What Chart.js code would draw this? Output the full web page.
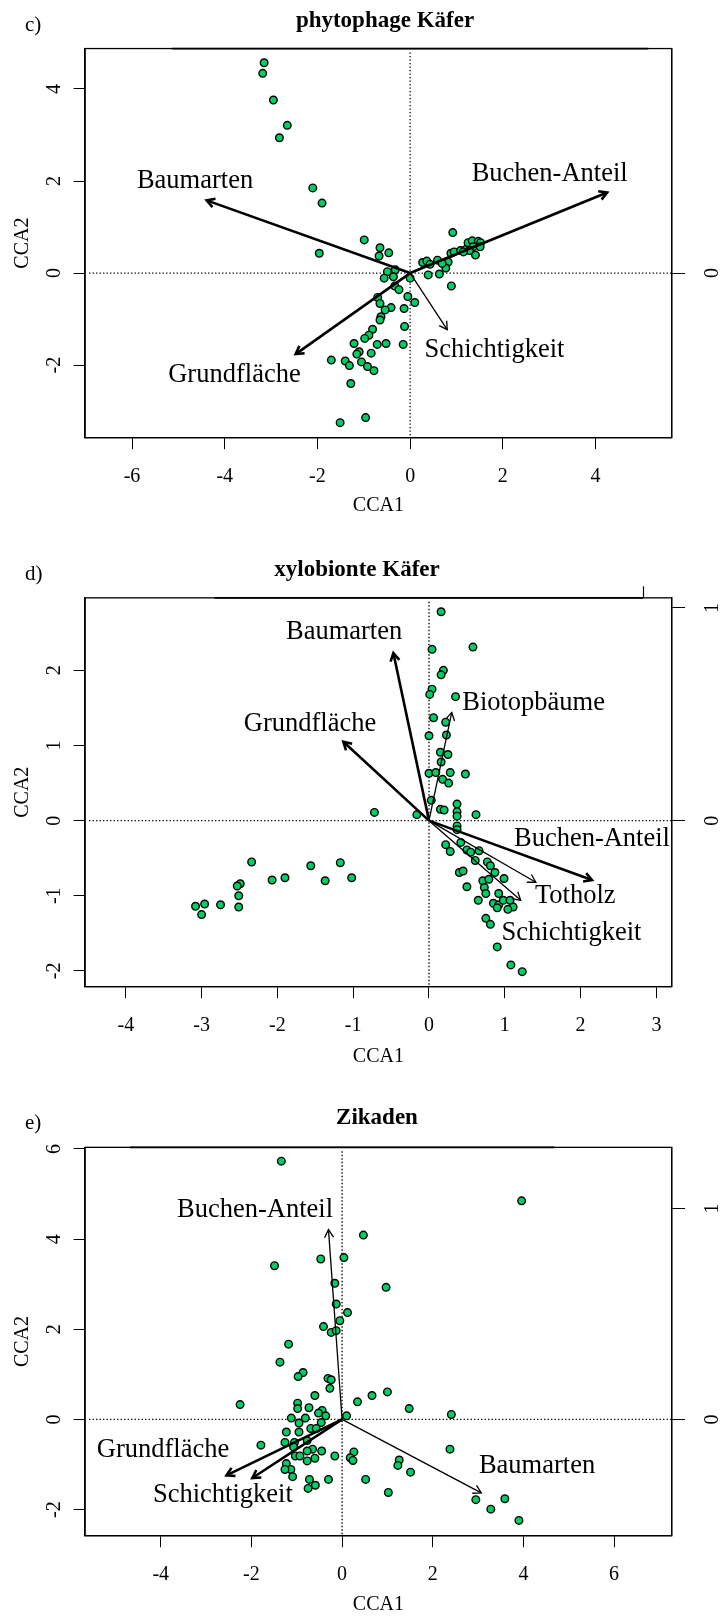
<!DOCTYPE html>
<html>
<head>
<meta charset="utf-8">
<script src="https://cdn.jsdelivr.net/npm/chart.js@4.4.0/dist/chart.umd.min.js"></script>
<style>
html,body{margin:0;padding:0;background:#fff;overflow:hidden;}
canvas{display:block;}
</style>
</head>
<body>
<canvas id="chartC" width="721" height="535" style="width:721px;height:535px"></canvas>
<canvas id="chartD" width="721" height="540" style="width:721px;height:540px"></canvas>
<canvas id="chartE" width="721" height="541" style="width:721px;height:541px"></canvas>
<script>
const SERIF = "'Liberation Serif','Times New Roman',serif";
const GREEN = "#00CD66";

// -------------------- DATA: c) phytophage Käfer --------------------
const phytoSites = [
    [-3.15,4.57],[-3.18,4.34],[-2.95,3.76],[-2.65,3.21],[-2.82,2.94],[-2.10,1.85],[-1.90,1.52],[-1.96,0.43],
    [-0.99,0.72],[0.92,0.88],[-1.51,-3.25],[-0.96,-3.14],
    [-0.65,0.55],[-0.46,0.44],[-0.67,0.37],[-0.32,0.07],[-0.49,0.03],[-0.56,-0.11],[-0.36,-0.08],[0.00,-0.11],
    [-0.33,-0.28],[-0.24,-0.36],[-0.05,-0.51],[0.10,-0.64],[-0.70,-0.53],[-0.65,-0.66],[-0.41,-0.75],[-0.54,-0.80],
    [-0.13,-0.77],[-0.63,-0.95],[-0.65,-1.02],[-0.81,-1.22],[-0.89,-1.35],[-0.98,-1.42],[-0.71,-1.55],[-0.52,-1.53],
    [-0.12,-1.16],[-0.15,-1.55],[-1.21,-1.53],[-1.10,-1.71],[-1.15,-1.76],[-0.84,-1.74],[-1.05,-1.93],[-1.40,-1.91],
    [-1.31,-2.01],[-0.92,-2.03],[-0.78,-2.12],[-1.70,-1.89],[-1.28,-2.40],
    [0.27,0.23],[0.36,0.26],[0.43,0.19],[0.59,0.28],[0.82,0.24],[0.77,0.11],[0.39,-0.04],[0.63,-0.02],[0.89,-0.28],
    [0.88,0.43],[0.95,0.46],[1.09,0.49],[1.21,0.52],[1.25,0.66],[1.34,0.70],[1.47,0.69],[1.52,0.66],[1.41,0.39],
    [1.36,0.57],[1.28,0.49],[1.15,0.46],[1.51,0.57],[0.69,0.21]
];
const phytoArrowNames = ["Baumarten","Buchen-Anteil","Grundfläche","Schichtigkeit"];
const phytoArrowX = [-4.39, 4.25, -2.47, 0.80];
const phytoArrowY = [1.58, 1.75, -1.76, -1.23];
const phytoLabelX = [-4.64, 3.01, -3.79, 1.82];
const phytoLabelY = [2.01, 2.16, -2.21, -1.68];
const phytoXTicks = [-6,-4,-2,0,2,4];
const phytoYTicks = [-2,0,2,4];
const phytoRightTicks = [0];

// -------------------- DATA: d) xylobionte Käfer --------------------
const xyloSites = [
    [0.16,2.78],[0.58,2.31],[0.04,2.28],[0.19,2.00],[0.16,1.94],[0.04,1.75],[0.01,1.68],[0.35,1.65],[0.06,1.37],
    [0.22,1.31],[0.00,1.13],[0.23,1.14],[0.15,0.91],[0.25,0.88],[0.16,0.78],[0.00,0.63],[0.09,0.64],[0.28,0.64],
    [0.48,0.62],[0.18,0.55],[0.26,0.50],
    [0.03,0.27],[0.15,0.15],[0.20,0.14],[0.37,0.22],[0.37,0.12],[0.37,0.06],[0.62,0.08],[-0.16,0.08],[-0.72,0.11],
    [0.37,-0.07],[0.37,-0.12],
    [0.22,-0.32],[0.28,-0.41],[0.42,-0.29],[0.50,-0.39],[0.55,-0.42],[0.66,-0.40],[0.61,-0.53],[0.77,-0.55],
    [0.81,-0.60],[0.40,-0.69],[0.45,-0.67],[0.87,-0.69],[0.99,-0.77],[0.71,-0.80],[0.79,-0.78],[0.73,-0.89],
    [0.50,-0.88],[0.75,-0.97],[0.92,-0.97],[0.65,-1.06],[0.85,-1.10],[0.92,-1.12],[0.98,-1.06],[1.07,-1.06],
    [1.11,-1.15],[1.04,-1.18],[0.90,-1.16],[0.75,-1.30],[0.81,-1.38],[0.90,-1.68],[1.08,-1.92],[1.23,-2.01],
    [-2.34,-0.55],[-1.56,-0.60],[-1.17,-0.56],[-1.90,-0.76],[-2.07,-0.79],[-1.37,-0.80],[-1.02,-0.76],
    [-2.49,-0.84],[-2.53,-0.87],[-2.51,-1.00],[-2.51,-1.15],[-2.75,-1.12],[-2.96,-1.11],[-3.08,-1.14],[-3.00,-1.25]
];
const xyloArrowNames = ["Baumarten","Grundfläche","Biotopbäume","Buchen-Anteil","Totholz","Schichtigkeit"];
const xyloArrowX = [-0.47, -1.13, 0.30, 2.15, 1.41, 1.21];
const xyloArrowY = [2.23, 1.05, 1.44, -0.79, -0.82, -1.06];
const xyloLabelX = [-1.12, -1.57, 1.38, 2.15, 1.93, 1.88];
const xyloLabelY = [2.51, 1.29, 1.57, -0.25, -1.01, -1.50];
const xyloXTicks = [-4,-3,-2,-1,0,1,2,3];
const xyloYTicks = [-2,-1,0,1,2];
const xyloRightTicks = [0,1];

// -------------------- DATA: e) Zikaden --------------------
const zikSites = [
    [-1.34,5.73],[3.96,4.85],[0.47,4.09],[-0.47,3.56],[0.04,3.59],[-1.49,3.41],[-0.16,3.02],[0.97,2.93],
    [-0.13,2.56],[0.12,2.37],[-0.05,2.19],[-0.41,2.06],[-0.24,1.93],[-0.13,1.97],[-1.18,1.67],[-1.37,1.27],
    [-0.86,1.04],[-0.97,0.95],[-0.31,0.91],[-0.24,0.88],[-0.27,0.69],[-0.60,0.53],[0.66,0.53],[1.00,0.61],
    [0.34,0.39],[-2.25,0.33],[1.48,0.24],[2.41,0.11],[0.10,0.08],[-0.98,0.36],[-0.98,0.24],[-0.73,0.26],
    [-0.44,0.20],[-0.52,0.14],[-0.36,0.08],[-1.12,0.03],[-0.81,0.03],[-0.95,-0.08],[-0.46,-0.07],[-0.69,-0.20],
    [-0.57,-0.20],[-1.23,-0.28],[-0.95,-0.28],[-1.26,-0.51],[-1.05,-0.51],[-0.77,-0.47],[-1.79,-0.57],[-1.07,-0.61],
    [-0.65,-0.66],[-0.45,-0.70],[-0.77,-0.70],[0.26,-0.72],[2.38,-0.66],[-0.16,-0.81],[-1.03,-0.81],[-0.93,-0.81],
    [-0.60,-0.86],[-0.77,-0.92],[0.18,-0.85],[0.24,-0.91],[1.26,-0.90],[1.23,-1.02],[1.51,-1.17],[-1.23,-0.98],
    [-1.13,-1.11],[-1.26,-1.11],[-1.09,-1.27],[-0.72,-1.33],[-0.30,-1.33],[0.52,-1.33],[-0.59,-1.46],[-0.75,-1.53],
    [1.02,-1.62],[2.95,-1.78],[3.28,-1.99],[3.59,-1.76],[3.90,-2.24]
];
const zikArrowNames = ["Buchen-Anteil","Baumarten","Grundfläche","Schichtigkeit"];
const zikArrowX = [-0.30, 3.07, -2.55, -1.98];
const zikArrowY = [4.21, -1.63, -1.24, -1.30];
const zikLabelX = [-1.92, 4.30, -3.95, -2.63];
const zikLabelY = [4.65, -1.03, -0.69, -1.68];
const zikXTicks = [-4,-2,0,2,4,6];
const zikYTicks = [-2,0,2,4,6];
const zikRightTicks = [0,1];

// -------------------- PANEL SETUP --------------------
const panels = [
    {id:"chartC", letter:"c)", title:"phytophage Käfer", sites:phytoSites,
     names:phytoArrowNames, ax:phytoArrowX, ay:phytoArrowY, lx:phytoLabelX, ly:phytoLabelY,
     xTicks:phytoXTicks, yTicks:phytoYTicks, rTicks:phytoRightTicks, topTicks:[],
     thick:["Baumarten","Buchen-Anteil","Grundfläche"],
     xMin:-7.012, xMax:5.643, yMin:-3.576, yMax:4.878, mul:5.14,
     h:535, top:48.55, bottom:437.67, titleX:385, titleY:26.9, letterY:31, cca1Pad:18.8},
    {id:"chartD", letter:"d)", title:"xylobionte Käfer", sites:xyloSites,
     names:xyloArrowNames, ax:xyloArrowX, ay:xyloArrowY, lx:xyloLabelX, ly:xyloLabelY,
     xTicks:xyloXTicks, yTicks:xyloYTicks, rTicks:xyloRightTicks, topTicks:[1],
     thick:["Baumarten","Grundfläche","Buchen-Anteil"],
     xMin:-4.537, xMax:3.202, yMin:-2.209, yMax:2.965, mul:2.83,
     h:540, top:62.85, bottom:451.63, titleX:357, titleY:40.5, letterY:45.3, cca1Pad:8.5},
    {id:"chartE", letter:"e)", title:"Zikaden", sites:zikSites,
     names:zikArrowNames, ax:zikArrowX, ay:zikArrowY, lx:zikLabelX, ly:zikLabelY,
     xTicks:zikXTicks, yTicks:zikYTicks, rTicks:zikRightTicks, topTicks:[],
     thick:["Grundfläche","Schichtigkeit"],
     xMin:-5.668, xMax:7.270, yMin:-2.580, yMax:6.036, mul:4.68,
     h:541, top:72.35, bottom:460.73, titleX:377, titleY:48.8, letterY:53.5, cca1Pad:1.2}
];

// -------------------- DRAW HELPERS --------------------
function drawArrow(ctx, x0, y0, x1, y1, lw){
    const a = Math.atan2(y1-y0, x1-x0), hl = 9;
    ctx.lineWidth = lw;
    ctx.beginPath(); ctx.moveTo(x0,y0); ctx.lineTo(x1,y1); ctx.stroke();
    ctx.beginPath();
    ctx.moveTo(x1 - hl*Math.cos(a-Math.PI/6), y1 - hl*Math.sin(a-Math.PI/6));
    ctx.lineTo(x1, y1);
    ctx.lineTo(x1 - hl*Math.cos(a+Math.PI/6), y1 - hl*Math.sin(a+Math.PI/6));
    ctx.stroke();
}

function biplotPlugin(p){
    return {
        id:"biplot_"+p.id,
        beforeDatasetsDraw(chart){
            const {ctx, chartArea:ca, scales:{x, y}} = chart;
            const x0 = x.getPixelForValue(0), y0 = y.getPixelForValue(0);
            ctx.save();
            ctx.strokeStyle = "#000"; ctx.lineWidth = 1.3; ctx.setLineDash([1.3,2.2]);
            ctx.beginPath();
            ctx.moveTo(ca.left+4, y0); ctx.lineTo(ca.right, y0);
            ctx.moveTo(x0, ca.top+4); ctx.lineTo(x0, ca.bottom);
            ctx.stroke();
            ctx.restore();
        },
        afterDatasetsDraw(chart){
            const {ctx, chartArea:ca, scales:{x, y}} = chart;
            const x0 = x.getPixelForValue(0), y0 = y.getPixelForValue(0);
            ctx.save();
            ctx.strokeStyle = "#000"; ctx.fillStyle = "#000";
            ctx.lineCap = "butt"; ctx.lineJoin = "miter";
            p.names.forEach((n,i)=>{
                drawArrow(ctx, x0, y0, x.getPixelForValue(p.ax[i]), y.getPixelForValue(p.ay[i]), p.thick.includes(n) ? 2.6 : 1.3);
            });
            ctx.font = "26.5px " + SERIF;
            ctx.textAlign = "center"; ctx.textBaseline = "middle";
            p.names.forEach((n,i)=>{
                ctx.fillText(n, x.getPixelForValue(p.lx[i]), y.getPixelForValue(p.ly[i]));
            });

            // box + top arrow-scale axis
            ctx.lineWidth = 1.3;
            ctx.strokeRect(ca.left, ca.top, ca.right-ca.left, ca.bottom-ca.top);
            ctx.lineWidth = 1.8;
            ctx.beginPath();
            ctx.moveTo(x.getPixelForValue(-p.mul), ca.top);
            ctx.lineTo(x.getPixelForValue(p.mul), ca.top);
            ctx.stroke();
            ctx.lineWidth = 1.2;
            p.topTicks.forEach(t=>{
                const tx = x.getPixelForValue(t*p.mul);
                ctx.beginPath(); ctx.moveTo(tx, ca.top); ctx.lineTo(tx, ca.top-11.5); ctx.stroke();
            });

            // title + panel letter
            ctx.textBaseline = "alphabetic";
            ctx.font = "bold 23px " + SERIF;
            ctx.fillText(p.title, p.titleX, p.titleY);
            ctx.textAlign = "left";
            ctx.font = "21px " + SERIF;
            ctx.fillText(p.letter, 25, p.letterY);
            ctx.restore();
        }
    };
}

function tickSetup(values){
    return s => { s.ticks = values.map(v=>({value:v})); };
}

// -------------------- BUILD CHARTS --------------------
function buildPanel(p){
    const tickFont = {family:SERIF, size:20};
    const titleFont = {family:SERIF, size:20, lineHeight:1};
    const grid = {drawOnChartArea:false, drawTicks:true, tickLength:11.5, color:"#000", lineWidth:1};
    new Chart(document.getElementById(p.id), {
        type:"scatter",
        data:{datasets:[{
            data:p.sites.map(([sx,sy])=>({x:sx, y:sy})),
            pointRadius:3.8, pointBorderWidth:1.4,
            pointBackgroundColor:GREEN, pointBorderColor:"#000", pointStyle:"circle"
        }]},
        options:{
            responsive:false, animation:false, devicePixelRatio:1,
            events:[],
            layout:{padding:{top:p.top, left:0, right:0, bottom:0}},
            plugins:{legend:{display:false}, tooltip:{enabled:false}, title:{display:false}},
            scales:{
                x:{type:"linear", position:"bottom", min:p.xMin, max:p.xMax,
                    afterBuildTicks:tickSetup(p.xTicks),
                    afterFit:s=>{ s.height = p.h - p.bottom; },
                    grid:grid, border:{display:true, color:"#000", width:1.3},
                    ticks:{autoSkip:false, maxRotation:0, minRotation:0, padding:16, color:"#000", font:tickFont, callback:v=>String(v)},
                    title:{display:true, text:"CCA1", color:"#000", font:titleFont, padding:{top:0, bottom:p.cca1Pad}}
                },
                y:{type:"linear", position:"left", min:p.yMin, max:p.yMax,
                    afterBuildTicks:tickSetup(p.yTicks),
                    afterFit:s=>{ s.width = 85.1; },
                    grid:grid, border:{display:true, color:"#000", width:1.3},
                    ticks:{autoSkip:false, minRotation:90, maxRotation:90, crossAlign:"center", padding:11, color:"#000", font:tickFont, callback:v=>String(v)},
                    title:{display:true, text:"CCA2", color:"#000", font:titleFont, padding:{top:13, bottom:0}}
                },
                y2:{type:"linear", position:"right", min:p.yMin/p.mul, max:p.yMax/p.mul,
                    afterBuildTicks:tickSetup(p.rTicks),
                    afterFit:s=>{ s.width = 721 - 671.7; },
                    grid:{drawOnChartArea:false, drawTicks:true, tickLength:13.3, color:"#000", lineWidth:1},
                    border:{display:true, color:"#000", width:1.3},
                    ticks:{autoSkip:false, minRotation:90, maxRotation:90, crossAlign:"center", padding:22.7, color:"#000", font:tickFont, callback:v=>String(v)}
                }
            }
        },
        plugins:[biplotPlugin(p)]
    });
}

panels.forEach(buildPanel);
</script>
</body>
</html>
